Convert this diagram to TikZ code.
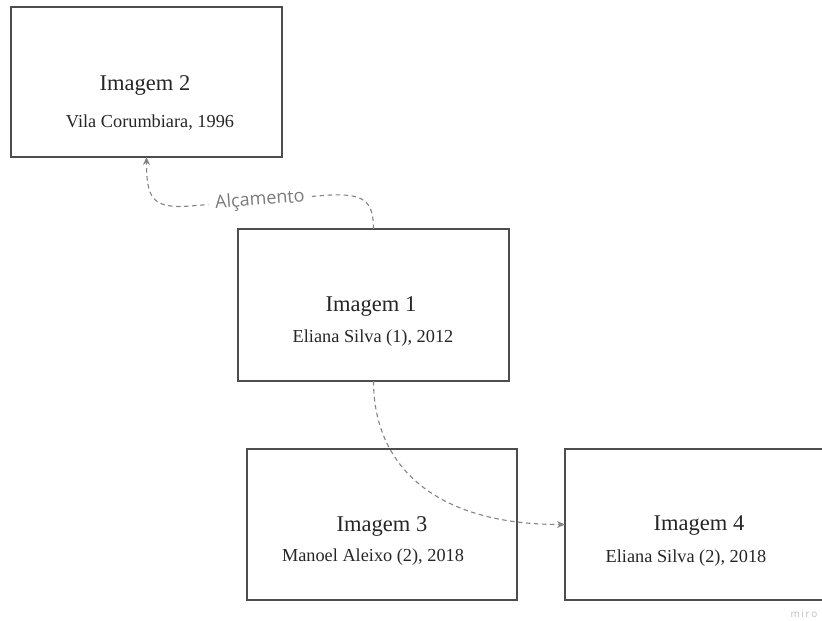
\documentclass[tikz,border=0pt]{standalone}
\usepackage{fontspec}
\setmainfont{Liberation Serif}
\newfontfamily\lblfont{Open Sans}
\usetikzlibrary{arrows.meta}
\definecolor{boxline}{HTML}{4D4D4D}
\definecolor{connc}{HTML}{858585}
\definecolor{lblc}{HTML}{7A7A7A}
\begin{document}
\begin{tikzpicture}[x=1pt,y=-1pt,
  imgbox/.style={draw=boxline, line width=1.5pt, rectangle, inner sep=0pt, outer sep=0pt},
  titletext/.style={font=\fontsize{22.5}{26}\selectfont, text=black!85, inner sep=0pt},
  subtext/.style={font=\fontsize{18.3}{22}\selectfont, text=black!85, inner sep=0pt},
  conn/.style={draw=connc, line width=1.1pt, dash pattern=on 4.5pt off 3.5pt, -{Stealth[length=8pt,width=7pt]}},
  lbl/.style={font=\lblfont\fontsize{18}{20}\selectfont, text=lblc, fill=white, inner xsep=7pt, inner ysep=2pt}
]
\clip (0,0) rectangle (822,621);
\fill[white] (0,0) rectangle (822,621);

\node[imgbox, minimum width=271pt, minimum height=150pt] (b2) at (146.5,82) {};
\node[imgbox, minimum width=271pt, minimum height=152pt] (b1) at (373.5,305) {};
\node[imgbox, minimum width=270pt, minimum height=151pt] (b3) at (382,524.5) {};
\node[imgbox, minimum width=269pt, minimum height=151pt] (b4) at (699.5,524.5) {};

\node[titletext] (t2) at (145,85) {Imagem 2};
\node[subtext] (s2) at (150,123) {Vila Corumbiara, 1996};
\node[titletext] (t1) at (371,306) {Imagem 1};
\node[subtext] (s1) at (373,338) {Eliana Silva (1), 2012};
\node[titletext] (t3) at (382,526) {Imagem 3};
\node[subtext] (s3) at (373,557) {Manoel Aleixo (2), 2018};
\node[titletext] (t4) at (699,526) {Imagem 4};
\node[subtext] (s4) at (686,558) {Eliana Silva (2), 2018};

\draw[conn] (b1.north) .. controls (373.5,199) and (362,194) .. (330,195)
  -- node[lbl, sloped, midway] (lab) {Alçamento} (190,206)
  .. controls (152,209) and (146.5,198) .. (b2.south);
\draw[conn] (b1.south) .. controls (373.5,462) and (430,524.5) .. (b4.west);

\node[font=\lblfont\fontsize{10}{12}\selectfont, text=black!25, inner sep=0pt] (miro) at (804,614) {m\,i\,r\,o};
\end{tikzpicture}
\end{document}
